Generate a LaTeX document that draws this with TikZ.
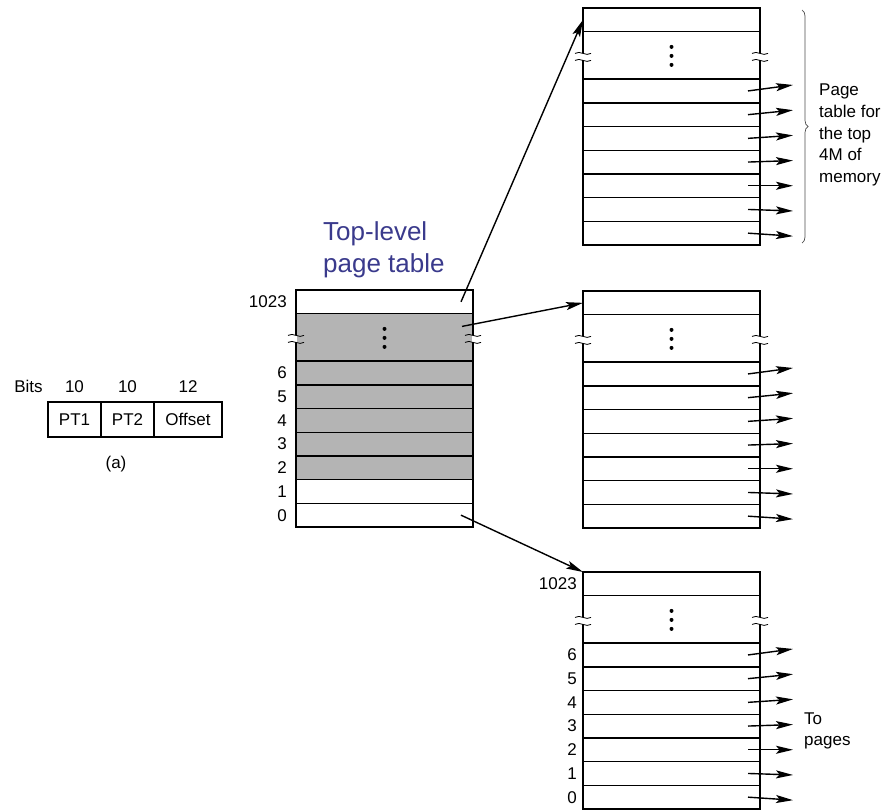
\documentclass[tikz,border=0pt]{standalone}
\usepackage{fontspec}
\setmainfont{Liberation Sans}
\usetikzlibrary{positioning,arrows.meta,decorations.pathreplacing}
\definecolor{slideblue}{RGB}{58,58,140}
\definecolor{cellgray}{RGB}{180,180,180}
\tikzset{
  cell/.style={draw, line width=1.4pt, minimum width=177pt, minimum height=23.7pt, inner sep=0pt, outer sep=0pt},
  gapcell/.style={cell, minimum height=47.4pt},
  shaded/.style={fill=cellgray},
  field/.style={draw, line width=1.4pt, minimum height=35pt, inner sep=0pt, outer sep=0pt},
  lbl/.style={inner sep=0pt},
  ptr/.style={line width=1.4pt, -{Stealth[length=17pt,width=8pt,inset=3.5pt]}},
  squig/.pic={
    \fill[white] (-1.4,-3.5) rectangle (1.4,3.5);
    \draw[line width=0.8pt] (-8,-3.5) .. controls (-3,-7) and (3,0) .. (8,-3.5);
    \draw[line width=0.8pt] (-8,3.5) .. controls (-3,0) and (3,7) .. (8,3.5);
  }
}
\begin{document}
\begin{tikzpicture}[x=1pt,y=-1pt,font=\fontsize{17}{21.6}\selectfont]
  \useasboundingbox (0,0) rectangle (885,809);

  % (a) address split
  \node[field, minimum width=53pt] (pt1) at (74.5,419.5) {PT1};
  \node[field, minimum width=53pt, right=0pt of pt1] (pt2) {PT2};
  \node[field, minimum width=68pt, right=0pt of pt2] (off) {Offset};
  \node[lbl, above=9pt of pt1] (b1) {10};
  \node[lbl, above=9pt of pt2] (b2) {10};
  \node[lbl, above=9pt of off] (b3) {12};
  \node[lbl, left=22pt of b1] (bits) {Bits};
  \node[lbl] (cap) at (116,464) {(a)};

  % Top-level table
  \node[font=\fontsize{26}{32}\selectfont, text=slideblue, align=left, anchor=north west, inner sep=0pt] (heading) at (323,221) {Top-level\\page table};
  \begin{scope}[shift={(296,290)}]
    \node[cell] (toplvl-top) at (88.5,11.85) {};
    \node[gapcell, shaded] (toplvl-gap) at (88.5,47.4) {};
    \foreach \i in {6,...,2}
      \node[cell, shaded] (toplvl-\i) at (88.5,{23.7*(9.5-\i)}) {};
    \foreach \i in {1,0}
      \node[cell] (toplvl-\i) at (88.5,{23.7*(9.5-\i)}) {};
  \end{scope}
  \node[lbl, left=9pt of toplvl-top] {1023};
  \foreach \i in {6,...,0}
    \node[lbl, left=9pt of toplvl-\i] {\i};

  % Second-level tables
  \foreach \t/\x/\y in {upper/583/8, middle/583/291, lower/583/572} {
    \begin{scope}[shift={(\x,\y)}]
      \node[cell] (\t-top) at (88.5,11.85) {};
      \node[gapcell] (\t-gap) at (88.5,47.4) {};
      \foreach \i in {6,...,0}
        \node[cell] (\t-\i) at (88.5,{23.7*(9.5-\i)}) {};
    \end{scope}
    \foreach \i [count=\k from 0] in {6,...,0}
      \draw[ptr] ([xshift=-12pt]\t-\i.east) -- ([xshift=33pt,yshift={6pt-1.5pt*\k}]\t-\i.east);
  }
  \node[lbl, left=6pt of lower-top] {1023};
  \foreach \i in {6,...,0}
    \node[lbl, left=6pt of lower-\i] {\i};

  % dots and breaks
  \foreach \t in {toplvl, upper, middle, lower} {
    \foreach \d in {-8.5,0.5,9.5}
      \fill (\t-gap.center) ++(0,\d) circle (2pt);
    \path (\t-gap.west) ++(0,1.5) pic {squig};
    \path (\t-gap.east) ++(0,1.5) pic {squig};
  }

  % pointers between levels
  \draw[ptr] ([xshift=-12pt]toplvl-top.east) -- (upper-top.west);
  \draw[ptr] ([xshift=-11pt,yshift=11pt]toplvl-gap.east) -- (middle-top.west);
  \draw[ptr] ([xshift=-12pt]toplvl-0.east) -- (lower-top.north west);

  % notes
  \draw[decorate, decoration={brace, amplitude=6pt}, gray!60!black, line width=0.7pt]
    ([xshift=42pt,yshift=-2pt]upper-top.north east) -- ([xshift=42pt,yshift=2pt]upper-0.south east);
  \node[lbl, align=left, anchor=west] (note) at (819,135) {Page\\table for\\the top\\4M of\\memory};
  \node[lbl, align=left, anchor=west] (topages) at (804,731) {To\\pages};
\end{tikzpicture}
\end{document}
